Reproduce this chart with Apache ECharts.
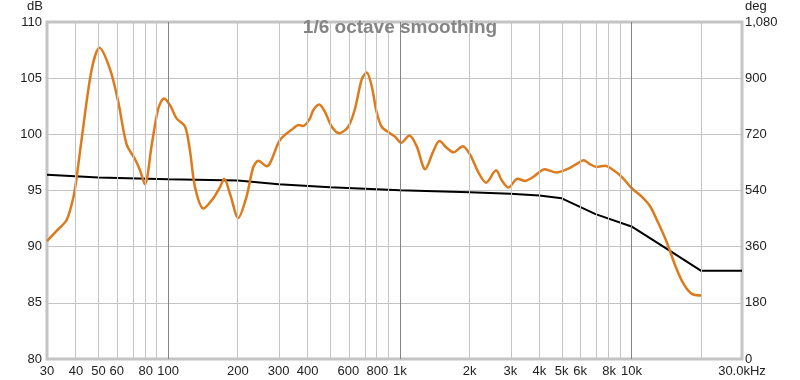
<!DOCTYPE html>
<html><head><meta charset="utf-8">
<script src="https://cdn.jsdelivr.net/npm/echarts@6/dist/echarts.min.js"></script>
<style>html,body{margin:0;padding:0;background:#fff}#c{width:800px;height:380px}</style>
</head><body><div id="c"></div>
<script>
// Orange: 1/6 octave smoothed SPL (frequency in Hz, level in dB)
const splFreqs = [30,33,36.5,39,40.3,43.1,46.8,50.5,56.1,60.9,66.2,71.9,75.6,79.4,85,90.7,96,101.9,108.9,118.3,124.3,130.6,141.9,156.5,167.5,174.6,185,200.7,218,233,245,266,304,348,365,383,409,423,449,475,508,548,600,641,685,720,756,794,834,906,953,1013,1100,1182,1287,1396,1482,1594,1704,1870,2011,2185,2357,2604,2754,2946,3222,3470,3762,4230,4740,5400,5780,6210,6610,7080,7690,8370,9100,10030,11070,12030,13060,14200,15430,16760,18210,20100];
const splDb =    [90.5,91.4,92.4,94.4,96.2,100.8,105.8,107.7,105.8,102.9,99.1,97.8,96.8,95.55,99.1,102.3,103.2,102.6,101.4,100.7,98.5,95.3,93.4,94.3,95.3,96.05,94.7,92.55,94.45,97.07,97.64,97.15,99.5,100.55,100.84,100.75,101.4,102.15,102.65,102.0,100.7,100.1,100.7,102.3,104.9,105.5,104.3,102.0,100.7,100.1,99.8,99.25,99.9,98.95,96.9,98.5,99.4,98.8,98.4,98.95,98.2,96.6,95.7,96.8,95.9,95.26,96.05,95.85,96.2,96.9,96.6,97.0,97.35,97.7,97.35,97.1,97.2,96.8,96.2,95.2,94.45,93.6,92.1,90.4,88.35,86.7,85.8,85.65];
// Black curve (dB scale)
const refFreqs = [30,50,100,200,300,500,1000,2000,3000,4000,5000,7000,10000,14000,20000,30000];
const refDb =    [96.4,96.15,96.0,95.9,95.55,95.3,95.03,94.85,94.72,94.55,94.3,92.9,91.8,89.9,87.85,87.85];
// Axis ticks
const tickFreqs = [30,40,50,60,80,100,200,300,400,600,800,1000,2000,3000,4000,5000,6000,8000,10000,30000];
const tickLabels = ['30','40','50','60','80','100','200','300','400','600','800','1k','2k','3k','4k','5k','6k','8k','10k','30.0kHz'];
const gridFreqs = [40,50,60,70,80,90,200,300,400,500,600,700,800,900,2000,3000,4000,5000,6000,7000,8000,9000,20000];
const decadeFreqs = [100,1000,10000];
const fMin = 30, fMax = 30000;

const lg = Math.log10;
const splData = splFreqs.map((f,i)=>[lg(f), splDb[i]]);
const refData = refFreqs.map((f,i)=>[lg(f), refDb[i]]);
const font = 'Liberation Sans, Arial, sans-serif';

const gridLines = gridFreqs.map(f=>({xAxis: lg(f), lineStyle:{color:'#c4c4c4', width:1, type:'solid'}}))
  .concat(decadeFreqs.map(f=>({xAxis: lg(f), lineStyle:{color:'#858585', width:1, type:'solid'}})));

const chart = echarts.init(document.getElementById('c'), null, {renderer:'canvas'});
chart.setOption({
  animation:false,
  backgroundColor:'#fff',
  title:{text:'1/6 octave smoothing', left:'center', top:13,
    textStyle:{color:'#858585', fontSize:19, fontWeight:'bold', fontFamily:font}},
  grid:{left:47, right:58, top:15, bottom:21, show:true, borderColor:'#c4c4c4', borderWidth:3, backgroundColor:'#fff'},
  xAxis:{type:'value', min:lg(fMin), max:lg(fMax),
    axisLine:{show:false}, axisTick:{show:false}, splitLine:{show:false},
    axisLabel:{customValues: tickFreqs.map(lg), margin:6, color:'#222', fontSize:13, fontFamily:font,
      formatter:(v)=>{ let best=0,d=1e9; tickFreqs.forEach((f,i)=>{const dd=Math.abs(lg(f)-v); if(dd<d){d=dd;best=i;}}); return tickLabels[best]; },
      alignMaxLabel:'center'}
  },
  yAxis:[
    {type:'value', min:80, max:110, interval:5, name:'dB', nameLocation:'end', nameGap:9,
      nameTextStyle:{color:'#222', fontSize:13, fontFamily:font, align:'right', padding:[0,4,0,0]},
      axisLine:{show:false}, axisTick:{show:false},
      splitLine:{show:true, lineStyle:{color:'#c4c4c4', width:1}},
      axisLabel:{color:'#222', fontSize:13, fontFamily:font, margin:5}},
    {type:'value', min:0, max:1080, interval:180, position:'right', name:'deg', nameLocation:'end', nameGap:9,
      nameTextStyle:{color:'#222', fontSize:13, fontFamily:font, align:'left', padding:[0,0,0,3]},
      axisLine:{show:false}, axisTick:{show:false}, splitLine:{show:false},
      axisLabel:{color:'#222', fontSize:13, fontFamily:font, margin:3,
        formatter:(v)=>v.toLocaleString('en-US')}}
  ],
  series:[
    {type:'line', data:[[lg(fMin),80]], symbol:'none', lineStyle:{opacity:0}, silent:true, z:1,
      markLine:{silent:true, symbol:['none','none'], label:{show:false}, animation:false, data:gridLines}},
    {type:'line', name:'ref', data:refData, symbol:'none', z:3,
      lineStyle:{color:'#000', width:2}},
    {type:'line', name:'spl', data:splData, symbol:'none', smooth:0.3, z:4,
      lineStyle:{color:'#dc7a1c', width:2.5}}
  ]
});
</script></body></html>
